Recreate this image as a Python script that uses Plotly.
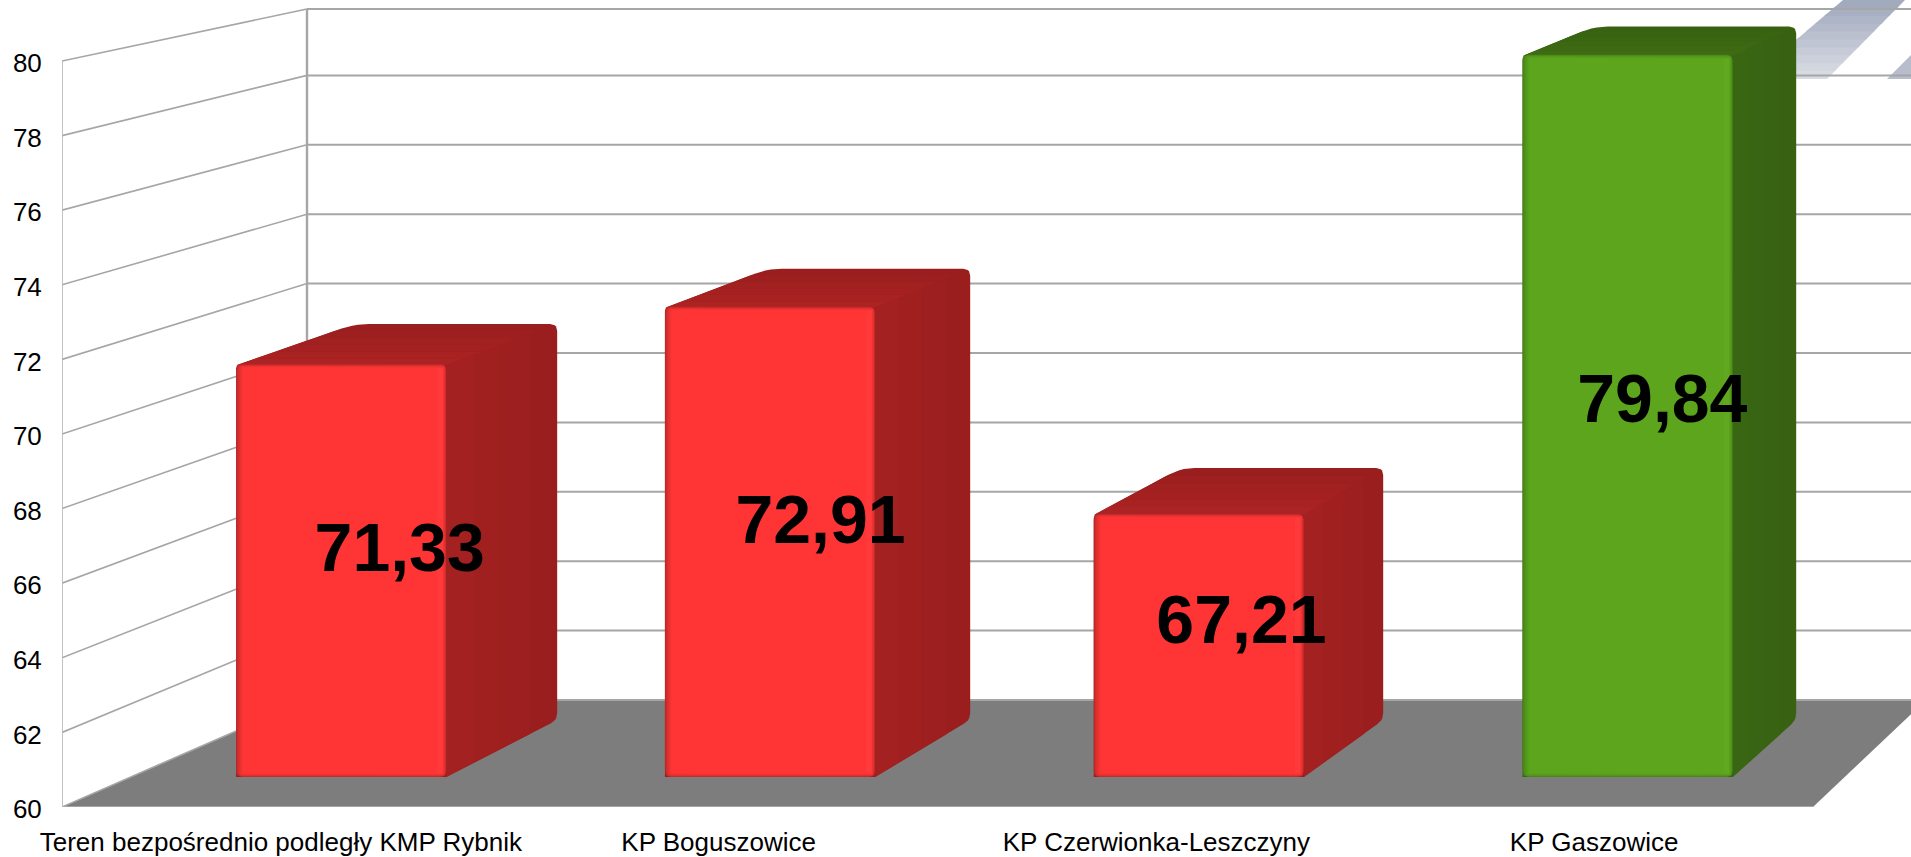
import plotly.graph_objects as go

# ---- data ----
categories = ["Teren bezpośrednio podległy KMP Rybnik", "KP Boguszowice",
              "KP Czerwionka-Leszczyny", "KP Gaszowice"]
values = [71.33, 72.91, 67.21, 79.84]
y_ticks = [60, 62, 64, 66, 68, 70, 72, 74, 76, 78, 80]
bar_styles = ["red", "red", "red", "green"]

# ---- styles ----
PAL = {
    "red": dict(main=(255, 53, 53), edge=(186, 42, 42), light=(255, 64, 64),
                side_f=(164, 33, 33), side_b=(153, 30, 30),
                top_f=(172, 35, 35), top_b=(154, 30, 30)),
    "green": dict(main=(92, 165, 29), edge=(72, 130, 24), light=(100, 172, 34),
                  side_f=(57, 102, 19), side_b=(55, 98, 18),
                  top_f=(62, 107, 20), top_b=(56, 99, 17)),
}
GRID = "#a6a6a6"
FONT = "Liberation Sans"

# ---- projection constants (front wall is the axis plane) ----
PX_X, PX_V = 437.75, 37.3
ORG_X, ORG_Y = 62.0, 807.0


def to_axis(px, py):
    return (px - ORG_X) / PX_X, 60 + (ORG_Y - py) / PX_V


def wall_back(x, v):
    return 307 + 404.75 * x, max(9, 700 - 34.7 * (v - 60))


def wall_front(x, v):
    return ORG_X + PX_X * x, ORG_Y - PX_V * (v - 60)


def bar_pt(x, v, t):
    fx, fy = 126.8 + 428.8 * x, 777 - 36.35 * (v - 60)
    bx, by = 249.5 + 413.0 * x, 720 - 34.95 * (v - 60)
    return fx + (bx - fx) * t, fy + (by - fy) * t


def lerp_c(a, b, t):
    return "rgb(%d,%d,%d)" % tuple(round(a[i] + (b[i] - a[i]) * t) for i in range(3))


def rounded(pts, radii):
    out = []
    n = len(pts)
    for i, p in enumerate(pts):
        a, b = pts[i - 1], pts[(i + 1) % n]
        r = radii[i] if isinstance(radii, (list, tuple)) else radii
        if r <= 0:
            out.append(p)
            continue
        def toward(q):
            d = ((q[0] - p[0]) ** 2 + (q[1] - p[1]) ** 2) ** 0.5
            k = min(r, d / 2) / d if d else 0
            return p[0] + (q[0] - p[0]) * k, p[1] + (q[1] - p[1]) * k
        s, e = toward(a), toward(b)
        for j in range(6):
            t = j / 5
            out.append(((1 - t) ** 2 * s[0] + 2 * t * (1 - t) * p[0] + t * t * e[0],
                        (1 - t) ** 2 * s[1] + 2 * t * (1 - t) * p[1] + t * t * e[1]))
    return out


fig = go.Figure()


def poly(pts, color):
    ax = [to_axis(*p) for p in pts]
    xs = [a[0] for a in ax] + [ax[0][0]]
    ys = [a[1] for a in ax] + [ax[0][1]]
    fig.add_trace(go.Scatter(x=xs, y=ys, mode="lines", fill="toself", fillcolor=color,
                             line=dict(width=0, color=color), hoverinfo="skip", showlegend=False))


def seg(pts, width=2, color=GRID):
    ax = [to_axis(*p) for p in pts]
    fig.add_trace(go.Scatter(x=[a[0] for a in ax], y=[a[1] for a in ax], mode="lines",
                             line=dict(width=width, color=color), hoverinfo="skip", showlegend=False))


# decorative stripes behind the grid
STEPS = 10
c0, c1 = (216, 219, 227), (162, 170, 190)
for k in range(STEPS):
    a, b = k / STEPS, (k + 1.15) / STEPS
    L = lambda t, p, q: (p[0] + (q[0] - p[0]) * t, p[1] + (q[1] - p[1]) * t)
    poly([L(a, (1750, 79), (1843, 0)), L(b, (1750, 79), (1843, 0)),
          L(b, (1827, 79), (1905, 0)), L(a, (1827, 79), (1905, 0))], lerp_c(c0, c1, k / (STEPS - 1)))
poly([(1887, 79), (1911, 55), (1911, 79)], "rgb(184,189,204)")

# walls and floor
poly([wall_front(0, 60), wall_front(4, 60), wall_back(4, 60), wall_back(0, 60)], "#7d7d7d")
for v in y_ticks:
    seg([wall_front(0, v), wall_back(0, v)], 1.6)
    seg([wall_back(0, v), wall_back(4, v)], 2.0)
seg([wall_back(0, 60), wall_back(0, 80)], 2.4)
seg([wall_front(0, 60), wall_front(0, 80)], 1.6, "#b4b4b4")
seg([wall_front(0, 60), wall_front(4, 60)], 1.6, "#b0b0b0")

# bars
BAR_W = 0.49
label_x, label_y = [], []
for i, (val, sty) in enumerate(zip(values, bar_styles)):
    c = PAL[sty]
    xl, xr = i + 0.5 - BAR_W / 2, i + 0.5 + BAR_W / 2

    # whole block outline with softened corners
    poly(rounded([bar_pt(xl, val, 0), bar_pt(xl, val, 1), bar_pt(xr, val, 1),
                  bar_pt(xr, 60, 1), bar_pt(xr, 60, 0), bar_pt(xl, 60, 0)],
                 [3, 14, 7, 7, 0, 0]), lerp_c(c["top_b"], c["side_b"], 0.5))

    # side face, in depth bands
    for k in range(3):
        t0, t1 = k / 4, (k + 1) / 4
        poly([bar_pt(xr, val, t0), bar_pt(xr, val, t1), bar_pt(xr, 60, t1), bar_pt(xr, 60, t0)],
             lerp_c(c["side_f"], c["side_b"], k / 3))

    # top face, in depth bands
    for k in range(5):
        t0, t1 = k / 6, (k + 1) / 6
        poly([bar_pt(xl + 0.001, val, t0), bar_pt(xl + 0.001, val, t1), bar_pt(xr, val, t1), bar_pt(xr, val, t0)],
             lerp_c(c["top_f"], c["top_b"], k / 5))

    # front face: nested bevel layers
    fx0, fy0 = bar_pt(xl, val, 0)
    fx1, fy1 = bar_pt(xr, 60, 0)
    fy0 -= 1
    for k in range(7):
        col = lerp_c(c["edge"], c["main"], (k / 6) ** 0.7)
        poly(rounded([(fx0 + 1.1 * k, fy0 + k * 0.5), (fx1 - k * 0.5, fy0 + k * 0.5),
                      (fx1 - k * 0.5, fy1 - k * 0.5), (fx0 + 1.1 * k, fy1 - k * 0.5)], max(6 - k, 1)), col)
    poly([(fx1 - 9, fy0 + 4), (fx1 - 3.5, fy0 + 4), (fx1 - 3.5, fy1 - 4), (fx1 - 9, fy1 - 4)],
         lerp_c(c["main"], c["light"], 0.5))

    # label anchored on the middle of the block
    bx1, by0 = bar_pt(xr, val, 1)
    lx, ly = to_axis((fx0 + bx1) / 2 + 3, (by0 + fy1) / 2 + 3)
    label_x.append(lx)
    label_y.append(ly)

fig.add_trace(go.Scatter(x=label_x, y=label_y, mode="text",
                         text=[f"{v:.2f}".replace(".", ",") for v in values],
                         textposition="middle center",
                         textfont=dict(family=FONT, size=68, color="black"),
                         texttemplate="<b>%{text}</b>",
                         hoverinfo="skip", showlegend=False, cliponaxis=False))

fig.update_layout(
    width=1911, height=857, autosize=False,
    margin=dict(l=62, r=0, t=0, b=50, pad=0),
    paper_bgcolor="white", plot_bgcolor="white",
    font=dict(family=FONT, size=26, color="black"),
    showlegend=False,
    xaxis=dict(range=[0, (1911 - ORG_X) / PX_X], tickmode="array",
               tickvals=[i + 0.5 for i in range(len(categories))], ticktext=categories,
               showgrid=False, zeroline=False, showline=False, ticks="outside", ticklen=12,
               tickcolor="rgba(0,0,0,0)", tickangle=0, tickfont=dict(family=FONT, size=26)),
    yaxis=dict(range=[60, 60 + ORG_Y / PX_V], tickmode="array", tickvals=y_ticks,
               showgrid=False, zeroline=False, showline=False, ticks="outside", ticklen=14,
               ticklabelshift=2,
               tickcolor="rgba(0,0,0,0)", tickfont=dict(family=FONT, size=26)),
)
fig.write_html("out.html", post_script="document.body.style.margin='0';document.body.style.overflow='hidden';",
               config=dict(displayModeBar=False))
